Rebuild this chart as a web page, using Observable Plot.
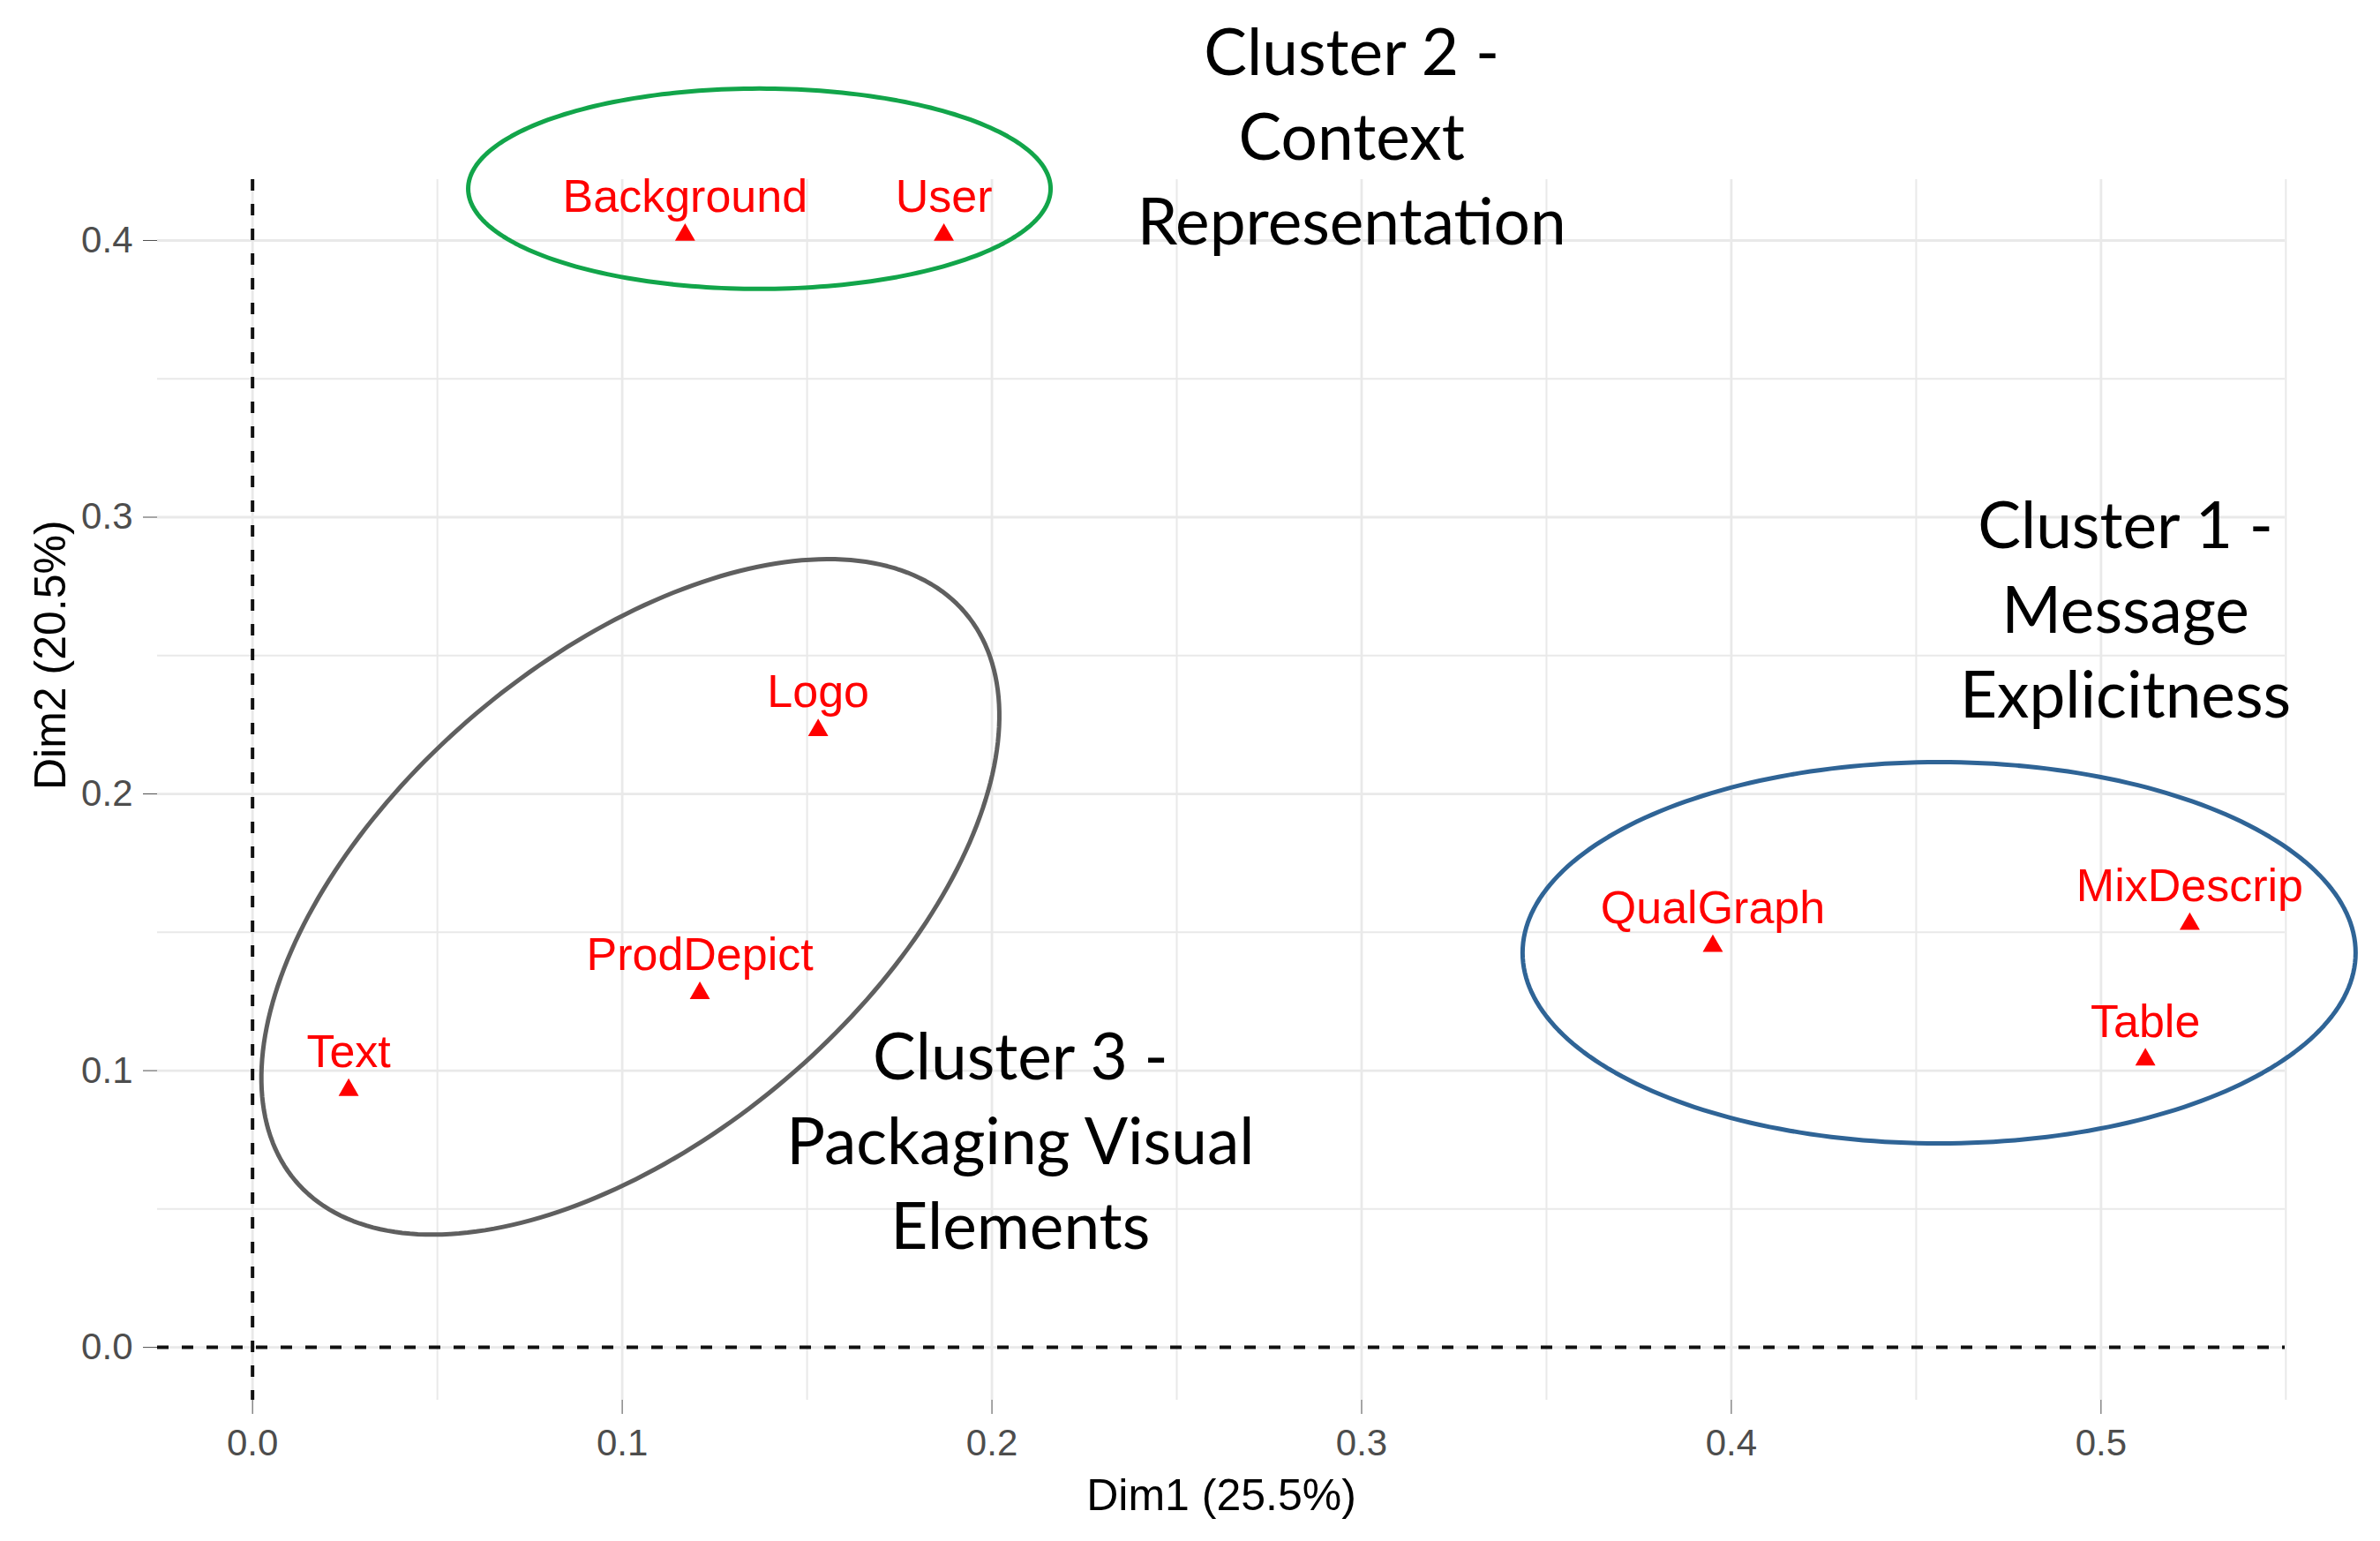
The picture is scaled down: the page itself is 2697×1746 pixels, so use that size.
<!DOCTYPE html>
<html>
<head>
<meta charset="utf-8">
<script src="https://cdn.jsdelivr.net/npm/d3@7"></script>
<script src="https://cdn.jsdelivr.net/npm/@observablehq/plot@0.6"></script>
<style>
  html, body { margin: 0; padding: 0; background: #fff; }
  #chart svg { display: block; }
</style>
</head>
<body>
<div id="chart"></div>
<script>
// ---- Data ----
const categories = ["Background", "User", "Logo", "ProdDepict", "Text", "QualGraph", "MixDescrip", "Table"];
const dim1 = [0.117, 0.187, 0.153, 0.121, 0.026, 0.395, 0.524, 0.512];
const dim2 = [0.402, 0.402, 0.223, 0.128, 0.093, 0.145, 0.153, 0.104];

const xTickValues = [0, 0.1, 0.2, 0.3, 0.4, 0.5];
const yTickValues = [0, 0.1, 0.2, 0.3, 0.4];
const xMinorValues = [0.05, 0.15, 0.25, 0.35, 0.45, 0.55];
const yMinorValues = [0.05, 0.15, 0.25, 0.35];

const clusterLabels = ["Cluster 1 -\nMessage\nExplicitness", "Cluster 2 -\nContext\nRepresentation", "Cluster 3 -\nPackaging Visual\nElements"];
const clusterX = [0.5066, 0.2973, 0.2077];
const clusterY = [0.2680, 0.4390, 0.0760];

// Cluster ellipses: centre in data units, semi-axes in screen pixels, rotation in degrees
const ellipseCluster = ["Cluster 1", "Cluster 2", "Cluster 3"];
const ellipseCx = [0.4562, 0.1371, 0.1022];
const ellipseCy = [0.1426, 0.4187, 0.1628];
const ellipseA = [472, 330, 497.6];
const ellipseB = [216, 113.5, 271.4];
const ellipseAngle = [0, 0, 40.3];
const ellipseColor = ["#2f6496", "#12a54a", "#5f5f5f"];

// ---- Layout ----
const W = 2697, H = 1746;
const mL = 178, mR = 108, mT = 203, mB = 160;
const xDomain = [-0.0257, 0.5498];
const yDomain = [-0.0191, 0.422];
const kx = (W - mL - mR) / (xDomain[1] - xDomain[0]);
const ky = (H - mT - mB) / (yDomain[1] - yDomain[0]);

const points = categories.map((c, i) => ({label: c, x: dim1[i], y: dim2[i]}));
const clusters = clusterLabels.map((t, i) => ({text: t, x: clusterX[i], y: clusterY[i]}));

const ellipsePts = [];
ellipseCluster.forEach((c, i) => {
  const th = ellipseAngle[i] * Math.PI / 180;
  const n = 240;
  for (let j = 0; j <= n; j++) {
    const t = 2 * Math.PI * j / n;
    const u = ellipseA[i] * Math.cos(t), v = ellipseB[i] * Math.sin(t);
    const dx = u * Math.cos(th) - v * Math.sin(th);
    const dy = u * Math.sin(th) + v * Math.cos(th);
    ellipsePts.push({cluster: c, x: ellipseCx[i] + dx / kx, y: ellipseCy[i] + dy / ky, color: ellipseColor[i]});
  }
});

const labelFont = "Liberation Sans, Arial, Helvetica, sans-serif";

const chart = Plot.plot({
  width: W,
  height: H,
  marginLeft: mL,
  marginRight: mR,
  marginTop: mT,
  marginBottom: mB,
  style: {fontFamily: labelFont, fontSize: "42px", color: "#4d4d4d", background: "#fff", overflow: "visible"},
  x: {domain: xDomain, ticks: xTickValues, tickFormat: d3.format(".1f"), tickSize: 16, tickPadding: 17, label: null},
  y: {domain: yDomain, ticks: yTickValues, tickFormat: d3.format(".1f"), tickSize: 16, tickPadding: 12, label: null},
  marks: [
    Plot.ruleX(xMinorValues, {stroke: "#e9e9e9", strokeWidth: 2}),
    Plot.ruleY(yMinorValues, {stroke: "#e9e9e9", strokeWidth: 2}),
    Plot.ruleX(xTickValues, {stroke: "#e9e9e9", strokeWidth: 2.8}),
    Plot.ruleY(yTickValues, {stroke: "#e9e9e9", strokeWidth: 2.8}),
    Plot.ruleX([0], {stroke: "#111", strokeWidth: 4, strokeDasharray: "13,15"}),
    Plot.ruleY([0], {stroke: "#111", strokeWidth: 4, strokeDasharray: "13,15"}),
    Plot.line(ellipsePts, {x: "x", y: "y", z: "cluster", stroke: "color", strokeWidth: 5, curve: "linear"}),
    Plot.dot(points, {x: "x", y: "y", symbol: "triangle", r: 8.5, fill: "#ff0000", stroke: "none"}),
    Plot.text(points, {x: "x", y: "y", text: "label", fill: "#ff0000", fontSize: 52, fontFamily: labelFont, lineAnchor: "bottom", dy: -26, textAnchor: "middle"}),
    Plot.text(clusters, {x: "x", y: "y", text: "text", fill: "#000", fontSize: 73, fontFamily: "Lato, 'Open Sans', sans-serif", lineHeight: 1.315, lineAnchor: "middle", textAnchor: "middle"}),
    Plot.text(["Dim1 (25.5%)"], {frameAnchor: "bottom", dy: 108, text: d => d, fill: "#000", fontSize: 50, fontFamily: labelFont, lineAnchor: "middle"}),
    Plot.text(["Dim2 (20.5%)"], {frameAnchor: "left", dx: -121, rotate: -90, text: d => d, fill: "#000", fontSize: 50, fontFamily: labelFont, lineAnchor: "middle"})
  ]
});
document.getElementById("chart").appendChild(chart);
</script>
</body>
</html>
